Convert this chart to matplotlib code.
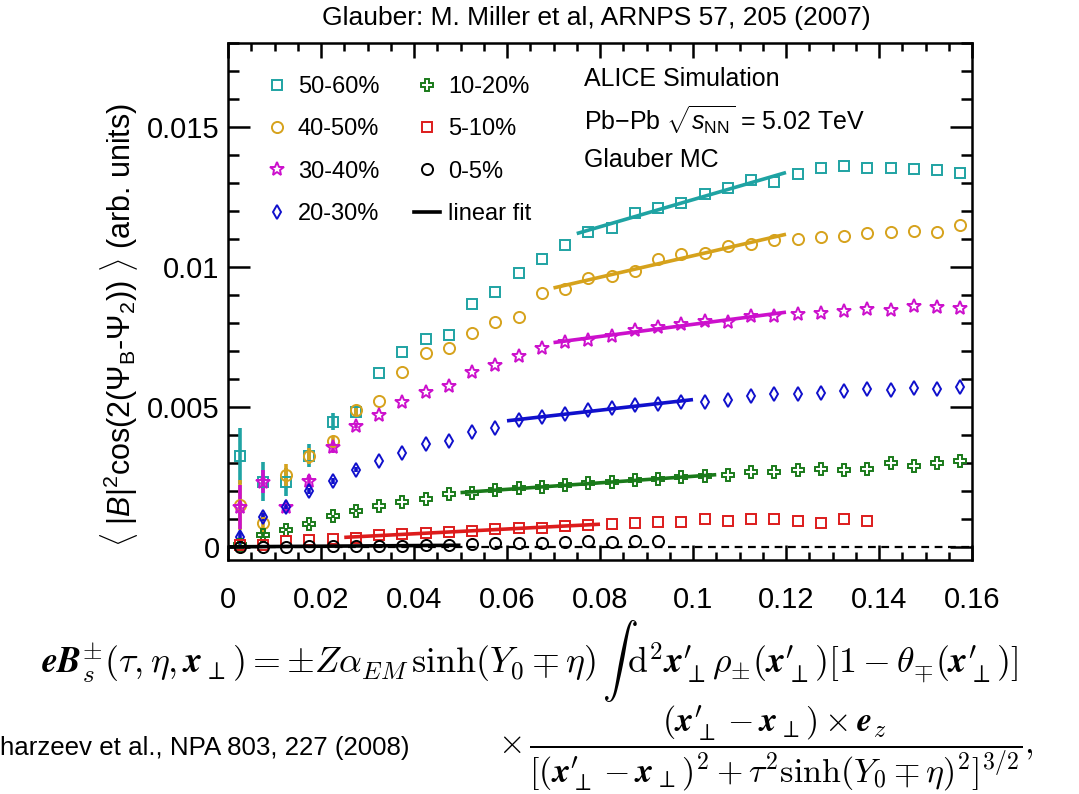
import numpy as np
import matplotlib
matplotlib.use("Agg")
import matplotlib.pyplot as plt
from matplotlib.ticker import MultipleLocator, FixedLocator

plt.rcParams['font.family'] = ['Liberation Sans', 'DejaVu Sans']
plt.rcParams['mathtext.fontset'] = 'custom'
plt.rcParams['mathtext.rm'] = 'Liberation Sans'
plt.rcParams['mathtext.it'] = 'Liberation Sans:italic'
plt.rcParams['mathtext.bf'] = 'Liberation Sans:bold'

# ---------------- data ----------------
x_centers = [0.0025, 0.0075, 0.0125, 0.0175, 0.0225, 0.0275, 0.0325, 0.0375,
             0.0425, 0.0475, 0.0525, 0.0575, 0.0625, 0.0675, 0.0725, 0.0775,
             0.0825, 0.0875, 0.0925, 0.0975, 0.1025, 0.1075, 0.1125, 0.1175,
             0.1225, 0.1275, 0.1325, 0.1375, 0.1425, 0.1475, 0.1525, 0.1575]

c5060 = [0.00326, 0.00233, 0.00233, 0.00327, 0.00448, 0.00483, 0.0062, 0.00698,
         0.00742, 0.00757, 0.00868, 0.0091, 0.00977, 0.01027, 0.01077, 0.01126,
         0.0114, 0.01194, 0.0121, 0.0123, 0.0126, 0.01281, 0.01311, 0.01305,
         0.01331, 0.01355, 0.01361, 0.01355, 0.01355, 0.01349, 0.01345, 0.01337]
c4050 = [0.0015, 0.00085, 0.00256, 0.00325, 0.00378, 0.00489, 0.00521, 0.00626,
         0.00692, 0.0071, 0.00765, 0.00805, 0.00823, 0.00906, 0.0092, 0.0096,
         0.00969, 0.00987, 0.01029, 0.01046, 0.01049, 0.01075, 0.01081, 0.01096,
         0.01099, 0.01108, 0.0111, 0.01123, 0.01126, 0.0113, 0.01126, 0.0115]
c3040 = [0.00143, 0.00234, 0.00145, 0.00236, 0.00356, 0.00434, 0.0047, 0.00517,
         0.00555, 0.00576, 0.00626, 0.0065, 0.00683, 0.0071, 0.00733, 0.0074,
         0.00753, 0.00775, 0.00787, 0.00795, 0.00808, 0.00805, 0.00825, 0.00825,
         0.00832, 0.00837, 0.00843, 0.0085, 0.00846, 0.00861, 0.00858, 0.00855]
c2030 = [0.00035, 0.00108, 0.00145, 0.00201, 0.00237, 0.00277, 0.00308, 0.00337,
         0.00368, 0.00379, 0.0041, 0.00426, 0.00454, 0.00463, 0.00474, 0.00489,
         0.00495, 0.00507, 0.0051, 0.00519, 0.00519, 0.00525, 0.00539, 0.00545,
         0.00545, 0.00551, 0.00557, 0.00563, 0.0056, 0.00569, 0.00566, 0.00573]
c1020 = [0.00007, 0.00043, 0.00062, 0.00082, 0.0011, 0.0013, 0.00146, 0.00162,
         0.00173, 0.00188, 0.00195, 0.00204, 0.0021, 0.00215, 0.00221, 0.00228,
         0.00233, 0.00239, 0.00245, 0.00249, 0.00254, 0.00257, 0.00267, 0.00267,
         0.00275, 0.00279, 0.00275, 0.00279, 0.00302, 0.00289, 0.00299, 0.00307]
c0510 = [0.00007, 0.00008, 0.00022, 0.00027, 0.0003, 0.00034, 0.00043, 0.00046,
         0.00051, 0.00054, 0.00058, 0.00063, 0.00067, 0.0007, 0.00076, 0.00079,
         0.00081, 0.00085, 0.0009, 0.00088, 0.001, 0.00093, 0.00102, 0.00102,
         0.00093, 0.00085, 0.00099, 0.00093]
c0005 = [0.00002, 0.00002, 0.00002, 0.00003, 0.00003, 0.00004, 0.00004, 0.00005,
         0.00006, 0.00007, 0.00012, 0.00013, 0.00015, 0.00016, 0.0002, 0.00021,
         0.0002, 0.00023, 0.00023]

# statistical errors of the first bins (larger ones visible)
e5060 = [0.001, 0.0007, 0.0005, 0.0004, 0.0003, 0.0002]
e4050 = [0.0009, 0.0004, 0.0004, 0.0003, 0.0002, 0.0002]
e3040 = [0.0008, 0.0004, 0.0002, 0.0002, 0.0002, 0.0001]
e2030 = [0.0002, 0.00015, 0.0001, 0.0001, 0.0001, 0.0001]
e1020 = [0.0001, 0.0001, 0.00005, 0.00005, 0.00005, 0.00005]

labels = ['50-60%', '40-50%', '30-40%', '20-30%', '10-20%', '5-10%', '0-5%']
values = [c5060, c4050, c3040, c2030, c1020, c0510, c0005]
errors = [e5060, e4050, e3040, e2030, e1020, None, None]
fit_ranges = [(0.075, 0.12), (0.07, 0.12), (0.07, 0.12), (0.06, 0.10),
              (0.05, 0.105), (0.025, 0.08), (0.0, 0.05)]

colors = ['#1fa3a3', '#d6a21c', '#cc10cc', '#1010cc', '#1a7a1a', '#dd1c1c', '#000000']
markers = ['s', 'o', '*', 'd', 'P', 's', 'o']
msizes = [7.5, 8, 10, 7.5, 9, 7.5, 8]

# ---------------- figure ----------------
W, H = 1079, 794
fig = plt.figure(figsize=(W / 100, H / 100), dpi=100)
ax = fig.add_axes([228/W, 1-560/H, (972-228)/W, (560-43)/H])

handles = []
for lab, y, err, col, mk, ms in zip(labels, values, errors, colors, markers, msizes):
    xs = np.array(x_centers[:len(y)])
    ys = np.array(y)
    if err is not None:
        n = len(err)
        ax.errorbar(xs[:n], ys[:n], yerr=err, fmt='none', ecolor=col,
                    elinewidth=2.6, capsize=0, zorder=2)
    h, = ax.plot(xs, ys, linestyle='none', marker=mk, ms=ms, mfc='none',
                 mec=col, mew=1.4, zorder=3, label=lab)
    handles.append(h)

ax.axhline(0, color='black', lw=1.6, ls=(0, (3.5, 2.5)), zorder=1)

for y, col, (lo, hi) in zip(values, colors, fit_ranges):
    xs = np.array(x_centers[:len(y)])
    ys = np.array(y)
    sel = (xs > lo) & (xs < hi)
    p = np.polyfit(xs[sel], ys[sel], 1)
    xf = np.array([lo, hi])
    ax.plot(xf, np.polyval(p, xf), color=col, lw=2.6, zorder=4,
            solid_capstyle='butt')

fit_handle, = ax.plot([], [], color='black', lw=2.6, label='linear fit')
handles.append(fit_handle)

ax.set_xlim(0, 0.16)
ax.set_ylim(-0.00046, 0.0180)

ax.xaxis.set_major_locator(FixedLocator([0, 0.02, 0.04, 0.06, 0.08, 0.1, 0.12, 0.14, 0.16]))
ax.set_xticklabels(['0', '0.02', '0.04', '0.06', '0.08', '0.1', '0.12', '0.14', '0.16'])
ax.xaxis.set_minor_locator(MultipleLocator(0.005))
ax.yaxis.set_major_locator(FixedLocator([0, 0.005, 0.01, 0.015]))
ax.set_yticklabels(['0', '0.005', '0.01', '0.015'])
ax.yaxis.set_minor_locator(MultipleLocator(0.001))

ax.tick_params(axis='both', which='both', direction='in', top=True, right=True,
               width=1.8, labelsize=21, colors='black')
ax.tick_params(axis='x', which='major', length=11, pad=19)
ax.tick_params(axis='x', which='minor', length=5.5)
ax.tick_params(axis='y', which='major', length=16, pad=6)
ax.tick_params(axis='y', which='minor', length=8)
for s in ax.spines.values():
    s.set_linewidth(1.8)

ax.set_ylabel(r"$\langle$ $|B|^{2}$cos(2($\Psi_{\mathrm{B}}$-$\Psi_{2}$)) $\rangle$ (arb. units)",
              fontsize=22)
ax.yaxis.set_label_coords(-0.118, 0.455)

leg = ax.legend(handles=handles, ncol=2, loc='upper left', frameon=False,
                bbox_to_anchor=(0.048, 0.936), fontsize=17, handlelength=1.1,
                handletextpad=0.35, columnspacing=1.45, labelspacing=0.86,
                borderaxespad=0, borderpad=0)

ax.text(0.478, 0.93, 'ALICE Simulation', transform=ax.transAxes, fontsize=18,
        va='center', ha='left')
ax.text(0.478, 0.85, r'Pb$-$Pb $\sqrt{s_{\mathrm{NN}}}$ = 5.02 TeV', transform=ax.transAxes,
        fontsize=18, va='center', ha='left')
ax.text(0.478, 0.774, 'Glauber MC', transform=ax.transAxes, fontsize=18,
        va='center', ha='left')

fig.text(596/W, 1-18/H, 'Glauber: M. Miller et al, ARNPS 57, 205 (2007)',
         fontsize=19, ha='center', va='center')

# ---- equations below the plot ----
xp = r"\mathbfit{x}^{\prime}_{\perp}"
eq1 = (r"$\mathbfit{eB}_{s}^{\pm}(\tau,\eta,\mathbfit{x}_{\perp}) = \pm Z\alpha_{EM}\,"
       r"\sinh(Y_0\mp\eta)\,\int\,\mathrm{d}^2" + xp + r"\rho_{\pm}(" + xp +
       r")[1-\theta_{\mp}(" + xp + r")]$")
fig.text(530/W, 1-661/H, eq1, fontsize=25.8, ha='center', va='center',
         math_fontfamily='cm')

eq2 = (r"$\times\,\dfrac{(" + xp + r"-\mathbfit{x}_{\perp})\times\mathbfit{e}_z}"
       r"{[(" + xp + r"-\mathbfit{x}_{\perp})^2+\tau^2\sinh(Y_0\mp\eta)^2]^{3/2}},$")
fig.text(766/W, 1-748/H, eq2, fontsize=24.5, ha='center', va='center',
         math_fontfamily='cm')
fig.text(0.0, 1-748/H, 'harzeev et al., NPA 803, 227 (2008)', fontsize=18.6,
         ha='left', va='center')

fig.savefig('out.png', dpi=100)
